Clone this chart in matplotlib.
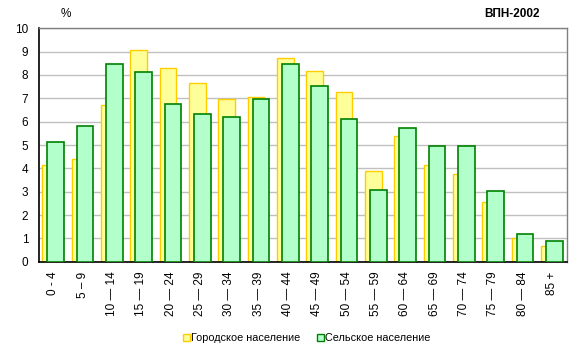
import numpy as np
import matplotlib
matplotlib.use("Agg")
import matplotlib.pyplot as plt
from matplotlib.patches import Patch

# ---- Data ----
age_groups = ["0 - 4", "5 \u2013 9", "10 \u2014 14", "15 \u2014 19", "20 \u2014 24",
              "25 \u2014 29", "30 \u2014 34", "35 \u2014 39", "40 \u2014 44", "45 \u2014 49",
              "50 \u2014 54", "55 \u2014 59", "60 \u2014 64", "65 \u2014 69", "70 \u2014 74",
              "75 \u2014 79", "80 \u2014 84", "85 +"]
urban = [4.14, 4.38, 6.70, 9.09, 8.32, 7.64, 6.99, 7.04, 8.71,
         8.15, 7.25, 3.87, 5.38, 4.14, 3.75, 2.56, 1.01, 0.67]
rural = [5.15, 5.80, 8.49, 8.11, 6.74, 6.35, 6.18, 6.99, 8.49,
         7.51, 6.10, 3.06, 5.75, 4.95, 4.95, 3.01, 1.19, 0.89]
yticks = list(range(0, 11))

plt.rcParams["font.family"] = ["Liberation Sans", "DejaVu Sans"]

fig = plt.figure(figsize=(5.81, 3.53), dpi=100)
ax = fig.add_axes([0.0666, 0.2586, 0.9088, 0.6612])

x = np.arange(len(age_groups))
w = 0.57
ax.bar(x - 0.09, urban, width=w, color="#FFFF99", edgecolor="#FFCC00", linewidth=1.0, zorder=2)
ax.bar(x + 0.08, rural, width=w, color="#B3FFCC", edgecolor="#008000", linewidth=1.2, zorder=3)

ax.set_xlim(-0.5, len(age_groups) - 0.5)
ax.set_ylim(0, 10)
ax.set_yticks(yticks)
ax.set_yticklabels([str(t) for t in yticks], fontsize=8.5)
ax.set_xticks(x)
ax.set_xticklabels(age_groups, rotation=90, fontsize=8.5, va="top")
ax.tick_params(axis="y", length=0, pad=7.5)
ax.tick_params(axis="x", length=0, pad=7)
ax.yaxis.grid(True, color="#C0C0C0", linewidth=1.0, zorder=0)
ax.set_axisbelow(True)

for s in ["top", "right"]:
    ax.spines[s].set_color("#808080")
    ax.spines[s].set_linewidth(1.0)
for s in ["left", "bottom"]:
    ax.spines[s].set_color("black")
    ax.spines[s].set_linewidth(1.2)

fig.text(0.114, 0.96, "%", fontsize=8.5, ha="center", va="center")
fig.text(0.881, 0.96, "ВПН-2002", fontsize=8.5, fontweight="bold", ha="center", va="center")

handles = [Patch(facecolor="#FFFF99", edgecolor="#FFCC00", label="Городское население"),
           Patch(facecolor="#B3FFCC", edgecolor="#008000", label="Сельское население")]
fig.legend(handles=handles, loc="center", bbox_to_anchor=(0.528, 0.042), ncol=2,
           frameon=False, fontsize=7.8, handlelength=0.6, handleheight=0.6,
           handletextpad=0.1, columnspacing=1.6)

fig.savefig("out.png", dpi=100)
